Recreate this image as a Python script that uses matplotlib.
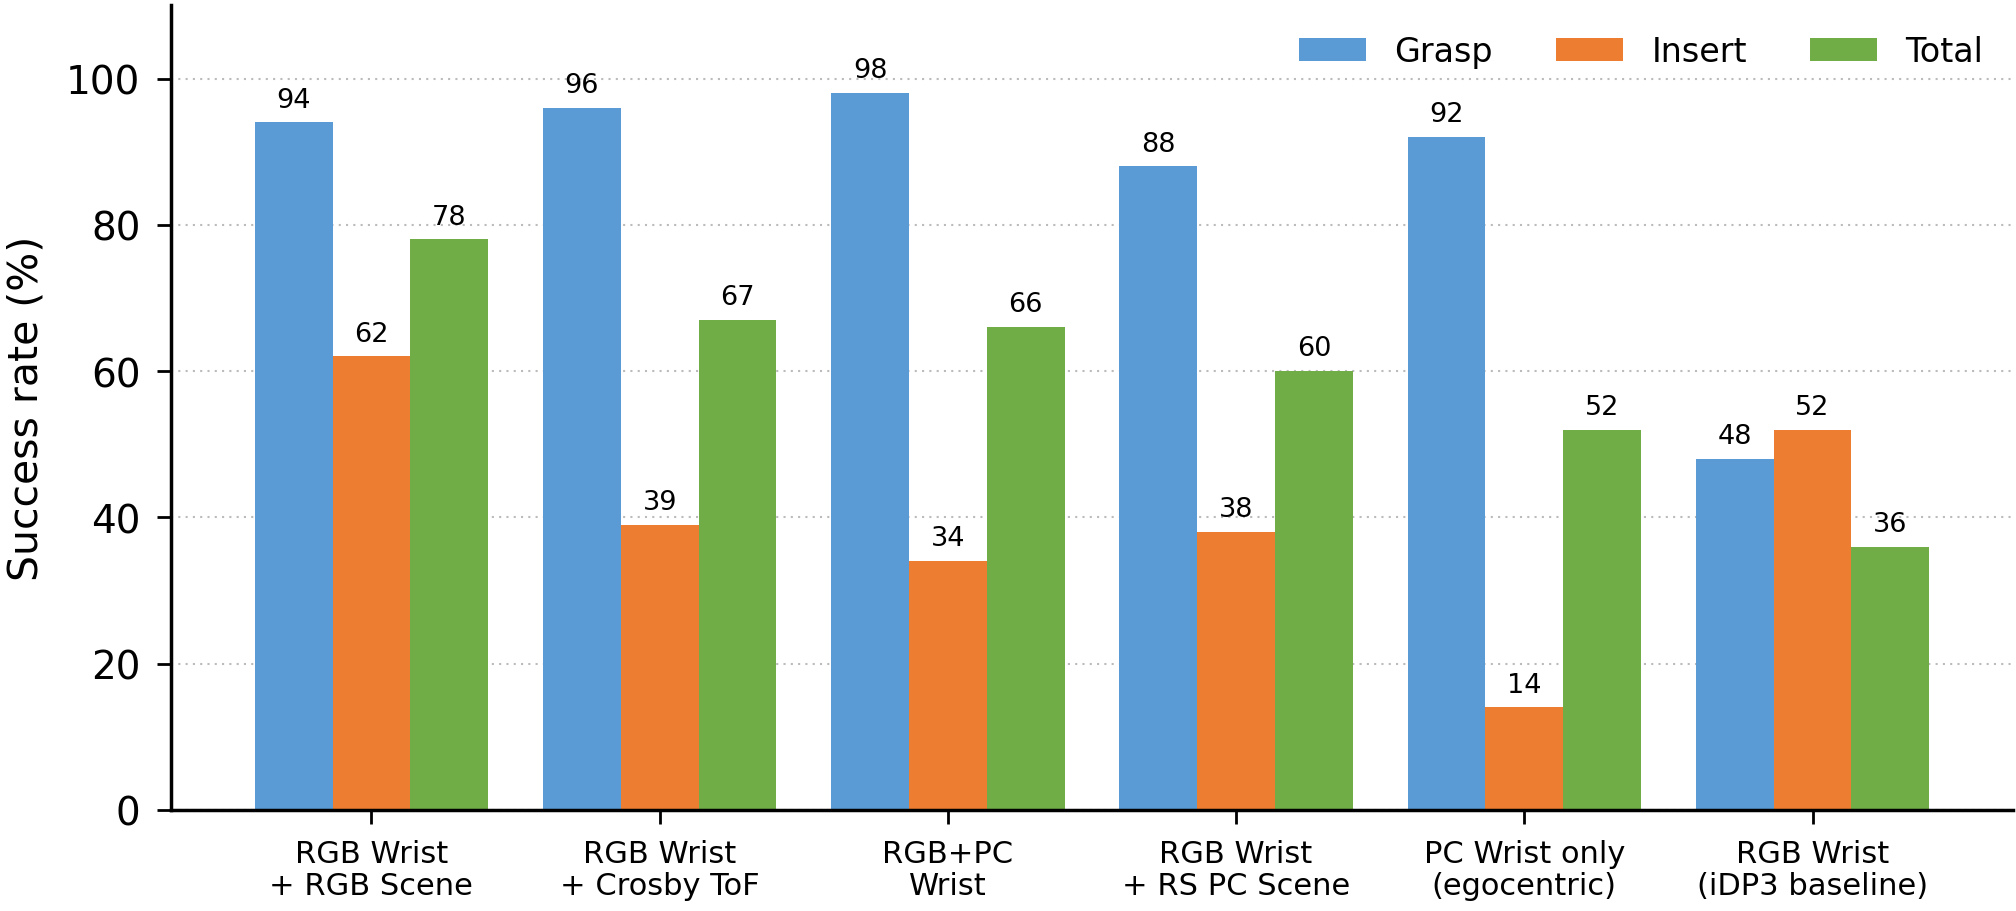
import matplotlib
matplotlib.use("Agg")
import matplotlib.pyplot as plt
import numpy as np

categories = ["RGB Wrist\n+ RGB Scene", "RGB Wrist\n+ Crosby ToF", "RGB+PC\nWrist",
              "RGB Wrist\n+ RS PC Scene", "PC Wrist only\n(egocentric)", "RGB Wrist\n(iDP3 baseline)"]
grasp = [94, 96, 98, 88, 92, 48]
insert = [62, 39, 34, 38, 14, 52]
total = [78, 67, 66, 60, 52, 36]
series_names = ["Grasp", "Insert", "Total"]
colors = ["#5B9BD5", "#ED7D31", "#70AD47"]

plt.rcParams['font.family'] = ['DejaVu Sans']
fig = plt.figure(figsize=(20.16, 9.12), dpi=100)
ax = fig.add_axes([0.0848, 0.111, 0.9137, 0.882])

x = np.arange(len(categories))
w = 0.27
for i, (vals, name, c) in enumerate(zip([grasp, insert, total], series_names, colors)):
    bars = ax.bar(x + (i - 1) * w, vals, w, color=c, label=name, zorder=2)
    ax.bar_label(bars, labels=[str(v) for v in vals], padding=7, fontsize=19.5)

ax.set_ylim(0, 110)
ax.set_yticks([0, 20, 40, 60, 80, 100])
ax.set_xticks(x)
ax.set_xticklabels(categories, fontsize=22, linespacing=1.15)
ax.tick_params(axis='y', labelsize=28, length=10, width=2, pad=12)
ax.tick_params(axis='x', length=10, width=2, pad=11)
ax.set_ylabel("Success rate (%)", fontsize=29.5, labelpad=14)
ax.yaxis.grid(True, linestyle=(0, (1, 2.5)), color='#bbbbbb', linewidth=1.5, zorder=0)
ax.set_axisbelow(True)
for s in ['top', 'right']:
    ax.spines[s].set_visible(False)
for s in ['left', 'bottom']:
    ax.spines[s].set_linewidth(2.5)

ax.legend(ncol=3, frameon=False, loc='upper right', fontsize=24,
          handlelength=2.0, handleheight=0.7, handletextpad=0.85, columnspacing=1.9,
          bbox_to_anchor=(1.0, 1.0))

fig.savefig("out.png", dpi=100)
